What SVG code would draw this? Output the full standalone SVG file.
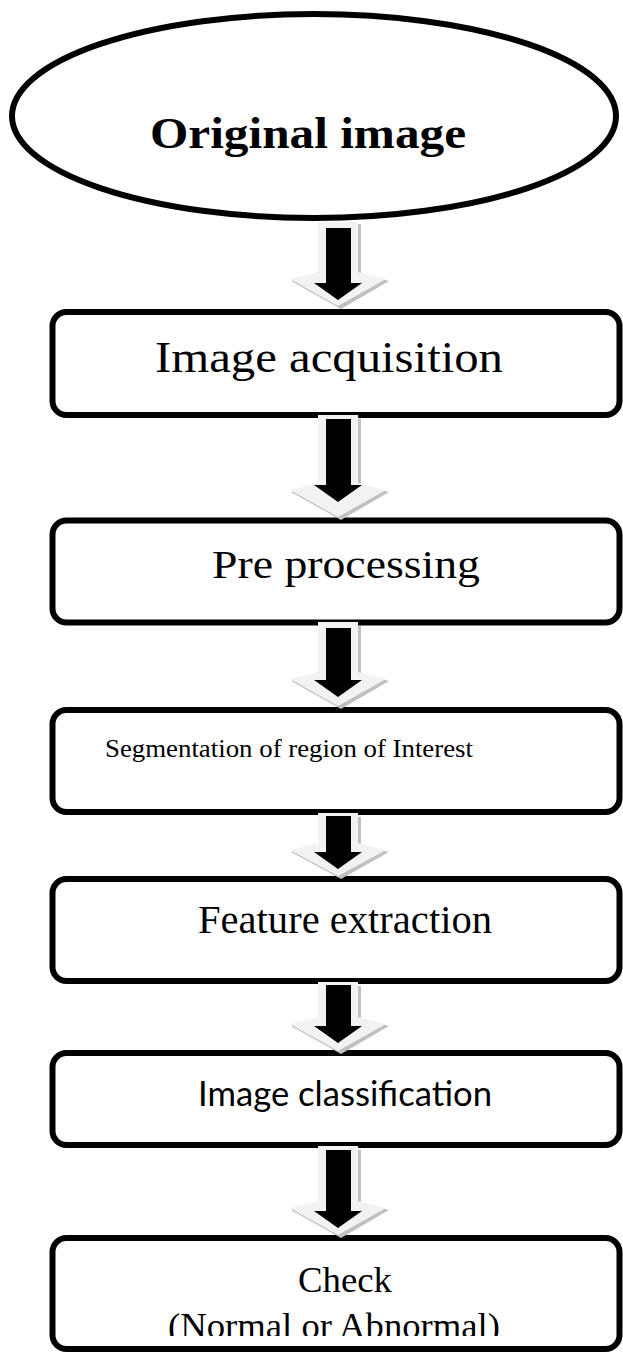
<svg xmlns="http://www.w3.org/2000/svg" width="623" height="1353" viewBox="0 0 623 1353">
<style>
.box{fill:#fff;stroke:#000;stroke-width:6}
.sh{fill:#c0c0c0}
.lt{fill:#f2f2f2}
.bk{fill:#000}
.cam{font-family:"Liberation Serif",serif;fill:#000;text-anchor:middle}
.tnr{font-family:"Liberation Serif",serif;font-size:26px;fill:#000;text-anchor:middle}
.cal{font-family:Lato,"Open Sans",sans-serif;font-size:34px;fill:#000;text-anchor:middle}
</style>
<defs>
<clipPath id="clipCheck"><rect x="0" y="1200" width="623" height="136"/></clipPath>
</defs>
<rect width="623" height="1353" fill="#fff"/>
<g id="n0">
<ellipse cx="314" cy="116" rx="302" ry="102" fill="#fff" stroke="#000" stroke-width="6"/>
<text x="308" y="148" font-family="Liberation Serif,serif" font-weight="bold" font-size="45" text-anchor="middle" textLength="316" lengthAdjust="spacingAndGlyphs">Original image</text>
</g>
<g id="n1">
<rect class="box" x="52.5" y="312" width="567" height="103" rx="14"/>
<text class="cam" x="329" y="372" font-size="44" textLength="348" lengthAdjust="spacingAndGlyphs">Image acquisition</text>
</g>
<g id="n2">
<rect class="box" x="52.5" y="520.5" width="567" height="102" rx="14"/>
<text class="cam" x="346" y="578" font-size="41" textLength="268" lengthAdjust="spacingAndGlyphs">Pre processing</text>
</g>
<g id="n3">
<rect class="box" x="52.5" y="710" width="567" height="102" rx="14"/>
<text class="tnr" x="289" y="757" textLength="368" lengthAdjust="spacingAndGlyphs">Segmentation of region of Interest</text>
</g>
<g id="n4">
<rect class="box" x="52.5" y="879" width="567" height="102" rx="14"/>
<text class="cam" x="345" y="933" font-size="39" textLength="294" lengthAdjust="spacingAndGlyphs">Feature extraction</text>
</g>
<g id="n5">
<rect class="box" x="52.5" y="1053" width="567" height="92" rx="14"/>
<text class="cal" x="345" y="1106" textLength="294" lengthAdjust="spacingAndGlyphs">Image classification</text>
</g>
<g id="n6">
<rect class="box" x="52.5" y="1238" width="567" height="111" rx="14"/>
<text class="cam" x="345" y="1292" font-size="35" textLength="94" lengthAdjust="spacingAndGlyphs">Check</text>
<text class="cam" x="334" y="1338" font-size="35" textLength="332" lengthAdjust="spacingAndGlyphs" clip-path="url(#clipCheck)">(Normal or Abnormal)</text>
</g>
<g id="connectors">
<g>
<polygon class="sh" points="322,224 361,224 361,274 389,281 341,309 291,281 322,274"/>
<polygon class="lt" points="318,222 358,222 358,272 386,279 338,306 290,279 318,272"/>
<polygon class="bk" points="326,228 351,228 351,283 362,283 338,300 314,283 326,283"/>
</g>
<g>
<polygon class="sh" points="322,419 361,419 361,485 389,492 341,520 291,492 322,485"/>
<polygon class="lt" points="318,415 358,415 358,483 386,490 338,517 290,490 318,483"/>
<polygon class="bk" points="326,419 351,419 351,485 362,485 338,502 314,485 326,485"/>
</g>
<g>
<polygon class="sh" points="322,626 361,626 361,674 389,681 341,709 291,681 322,674"/>
<polygon class="lt" points="318,622 358,622 358,672 386,679 338,706 290,679 318,672"/>
<polygon class="bk" points="326,628 351,628 351,680 362,680 338,697 314,680 326,680"/>
</g>
<g>
<polygon class="sh" points="322,817 361,817 361,845 389,852 341,879 291,852 322,845"/>
<polygon class="lt" points="318,813 358,813 358,843 386,850 338,876 290,850 318,843"/>
<polygon class="bk" points="326,816 351,816 351,852 362,852 338,869 314,852 326,852"/>
</g>
<g>
<polygon class="sh" points="322,986 361,986 361,1019 389,1026 341,1054 291,1026 322,1019"/>
<polygon class="lt" points="318,982 358,982 358,1017 386,1024 338,1051 290,1024 318,1017"/>
<polygon class="bk" points="326,985 351,985 351,1026 362,1026 338,1043 314,1026 326,1026"/>
</g>
<g>
<polygon class="sh" points="322,1150 361,1150 361,1203 389,1210 341,1238 291,1210 322,1203"/>
<polygon class="lt" points="318,1146 358,1146 358,1201 386,1208 338,1235 290,1208 318,1201"/>
<polygon class="bk" points="326,1150 351,1150 351,1211 362,1211 338,1228 314,1211 326,1211"/>
</g>
</g>
</svg>
